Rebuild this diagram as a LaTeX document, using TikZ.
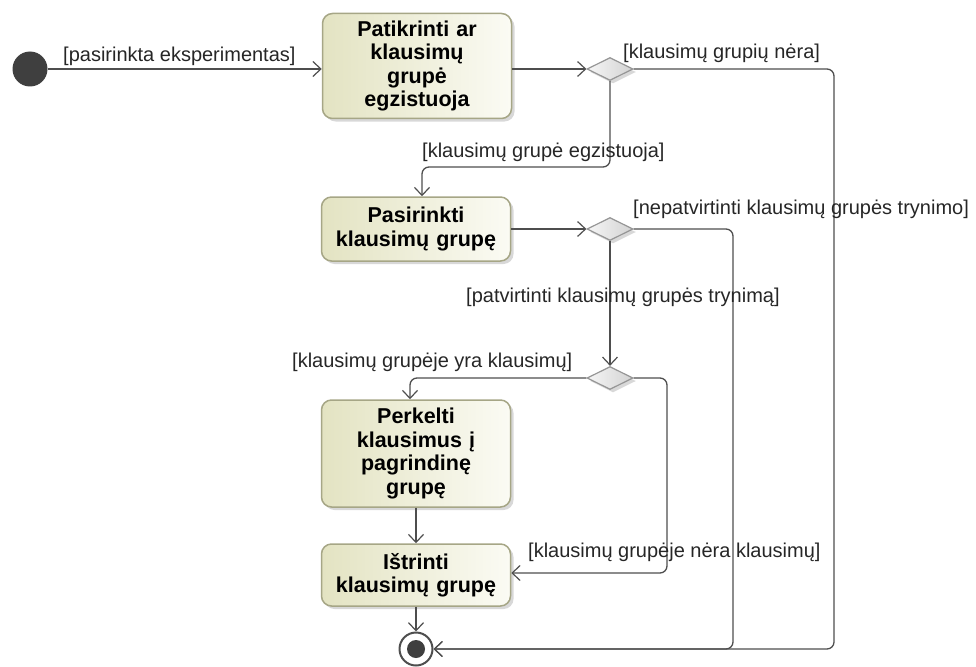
\documentclass[tikz,border=0pt]{standalone}
\usepackage{fontspec}
\setmainfont{Liberation Sans}
\usetikzlibrary{arrows.meta,shapes.geometric,shadows}

\definecolor{edgec}{HTML}{4E4E4E}
\definecolor{nodedark}{HTML}{3F3F3F}
\definecolor{actborder}{HTML}{A6A686}
\definecolor{actleft}{HTML}{E3E3C2}
\definecolor{actright}{HTML}{FBFBF4}
\definecolor{decborder}{HTML}{959595}
\definecolor{decleft}{HTML}{F6F6F6}
\definecolor{decright}{HTML}{D2D2D2}

\tikzset{
  flow/.style={draw=edgec, line width=1.3pt, rounded corners=7pt,
    -{Straight Barb[length=8pt,width=15pt,line width=1.2pt]}},
  action/.style={rectangle, rounded corners=10pt, draw=actborder, line width=1.5pt,
    left color=actleft, right color=actright, inner sep=0pt,
    minimum width=189pt, align=center, text width=180pt,
    font=\bfseries\fontsize{21.5}{23.5}\selectfont,
    drop shadow={shadow xshift=3pt, shadow yshift=-3pt, fill=black!30, opacity=0.5}},
  decision/.style={diamond, draw=decborder, line width=1.2pt,
    left color=decleft, right color=decright, inner sep=0pt,
    minimum width=46pt, minimum height=23pt,
    drop shadow={shadow xshift=3pt, shadow yshift=-3pt, fill=black!30, opacity=0.5}},
  guard/.style={inner sep=0pt, text=black!85, font=\fontsize{20}{24}\selectfont},
}

\begin{document}
\begin{tikzpicture}[x=1pt, y=-1pt]
\useasboundingbox (0,0) rectangle (976,666);

% nodes
\node[circle, fill=nodedark, minimum size=35pt, inner sep=0pt] (init) at (30,69) {};
\node[action, minimum height=105pt] (check) at (417,66) {Patikrinti ar\\klausimų\\grupė\\egzistuoja};
\node[decision] (d1) at (610,69) {};
\node[action, minimum height=64pt] (select) at (416,229) {Pasirinkti\\klausimų grupę};
\node[decision] (d2) at (610,229) {};
\node[decision] (d3) at (610,378) {};
\node[action, minimum height=107pt] (move) at (416,453.5) {Perkelti\\klausimus į\\pagrindinę\\grupę};
\node[action, minimum height=62pt] (delete) at (416,575) {Ištrinti\\klausimų grupę};
\node[circle, draw=edgec, line width=2pt, fill=white, minimum size=33pt, inner sep=0pt] (fin) at (416,649) {};
\fill[nodedark] (fin.center) circle (9pt);

% bend points
\coordinate (k1) at (834,649);
\coordinate (k2) at (733,649);
\coordinate (k3) at (422,167);
\coordinate (k4) at (410,378);
\coordinate (k5) at (667,573);

% connectors
\draw[flow] (init.east) -- (init.east -| check.west);
\draw[flow] (check.east |- d1) -- (d1.west);
\draw[flow] (d1.east) -| (k1) -- (fin.east);
\draw[flow] (d1.south) |- (k3) -- (k3 |- select.north);
\draw[flow] (select.east |- d2) -- (d2.west);
\draw[flow] (d2.east) -| (k2) -- (fin.east);
\draw[flow] (d2.south) -- (d3.north);
\draw[flow] (d3.west) -- (k4) -- (k4 |- move.north);
\draw[flow] (move.south) -- (delete.north);
\draw[flow] (d3.east) -| (k5) -- (k5 -| delete.east);
\draw[flow] (delete.south) -- (fin.north);

% guards
\node[guard, anchor=west] (g1) at (63,56) {[pasirinkta eksperimentas]};
\node[guard, anchor=west] (g2) at (623,53) {[klausimų grupių nėra]};
\node[guard, anchor=west] (g3) at (422,152) {[klausimų grupė egzistuoja]};
\node[guard, anchor=west] (g4) at (633,209) {[nepatvirtinti klausimų grupės trynimo]};
\node[guard, anchor=west] (g5) at (466,297) {[patvirtinti klausimų grupės trynimą]};
\node[guard, anchor=west] (g6) at (292,362) {[klausimų grupėje yra klausimų]};
\node[guard, anchor=west] (g7) at (528,552) {[klausimų grupėje nėra klausimų]};
\end{tikzpicture}
\end{document}
